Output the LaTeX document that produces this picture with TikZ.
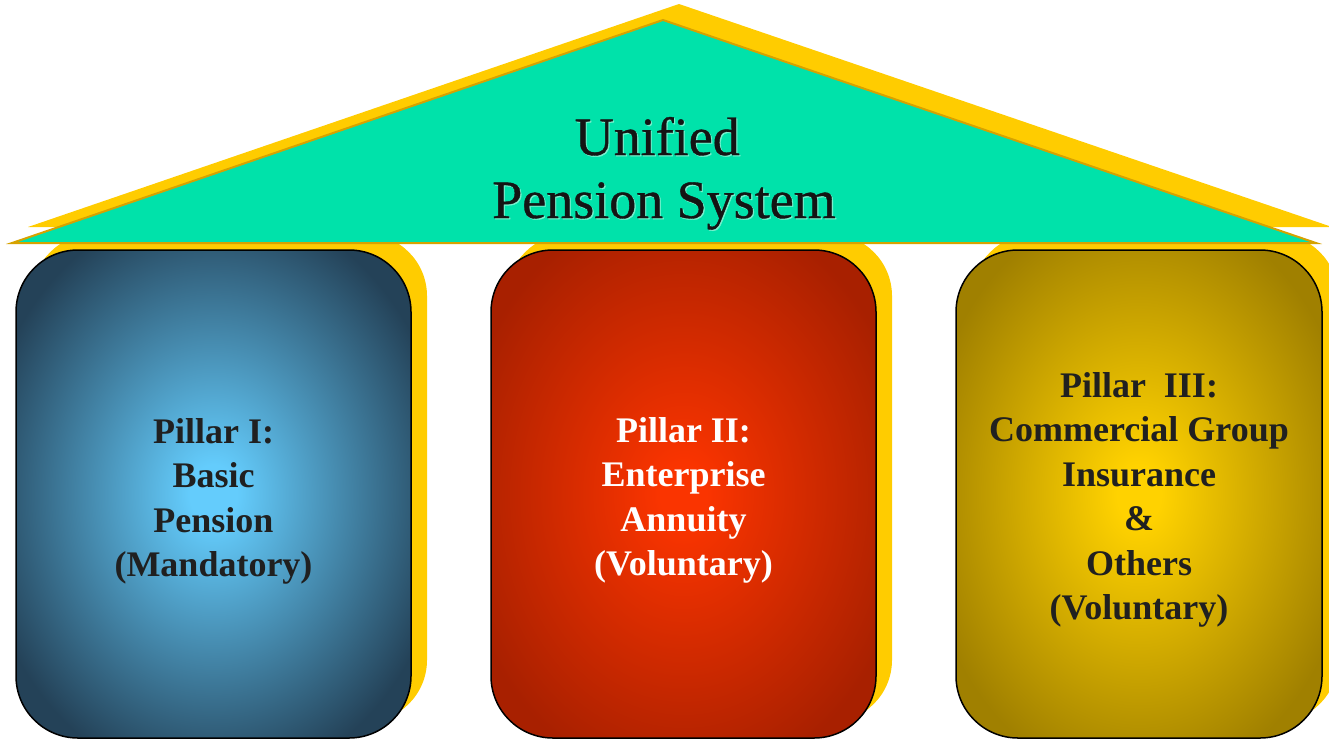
\documentclass[tikz,border=0pt]{standalone}
\usepackage{fontspec}
\setmainfont{Liberation Serif}
\newfontfamily\titlefont{Liberation Serif}[FakeBold=0.7]
\definecolor{roofgreen}{RGB}{0,226,170}
\definecolor{roofyellow}{RGB}{255,204,0}
\definecolor{roofgold}{RGB}{214,162,0}
\definecolor{titleink}{RGB}{20,20,20}
\definecolor{titlelight}{RGB}{120,240,205}
\definecolor{textdark}{RGB}{32,32,32}
\definecolor{blueIn}{RGB}{100,204,252}
\definecolor{blueOut}{RGB}{36,66,88}
\definecolor{redIn}{RGB}{250,52,0}
\definecolor{redOut}{RGB}{168,32,0}
\definecolor{goldIn}{RGB}{255,210,0}
\definecolor{goldOut}{RGB}{160,128,0}
\pgfdeclareradialshading{glowblue}{\pgfpointorigin}{color(0bp)=(blueIn); color(3bp)=(blueIn); color(30bp)=(blueOut); color(50bp)=(blueOut)}
\pgfdeclareradialshading{glowred}{\pgfpointorigin}{color(0bp)=(redIn); color(3bp)=(redIn); color(30bp)=(redOut); color(50bp)=(redOut)}
\pgfdeclareradialshading{glowgold}{\pgfpointorigin}{color(0bp)=(goldIn); color(3bp)=(goldIn); color(30bp)=(goldOut); color(50bp)=(goldOut)}
\begin{document}
\begin{tikzpicture}[x=1pt,y=-1pt,
  pillarshadow/.style={fill=roofyellow, rounded corners=62pt},
  pillarbox/.style={draw=black, line width=1.5pt, rounded corners=62pt},
  pillartext/.style={font=\bfseries\fontsize{36}{44.5}\selectfont, align=center, inner sep=0pt, anchor=base},
  titletext/.style={font=\titlefont\fontsize{54}{63}\selectfont, align=center, inner sep=0pt, anchor=base}]
\useasboundingbox (0,0) rectangle (1329,739);
\clip (0,0) rectangle (1329,739);
% pillar shadows
\fill[pillarshadow] (32,234) rectangle (427,722);
\fill[pillarshadow] (507,234) rectangle (892,722);
\fill[pillarshadow] (972,234) rectangle (1338,722);
% roof
\fill[roofyellow] (679,4) -- (28,227) -- (1332,227) -- cycle;
\filldraw[fill=roofgreen, draw=roofgold, line width=2pt, line join=miter] (663,20) -- (12,243) -- (1316,243) -- cycle;
% pillars
\path[pillarbox, shade, shading=glowblue] (16,250) rectangle (411,738);
\path[pillarbox, shade, shading=glowred] (491,250) rectangle (876,738);
\path[pillarbox, shade, shading=glowgold] (956,250) rectangle (1322,738);
% texts (base anchor = baseline of the last line)
\node[titletext, text=titlelight] (titlehl) at (665.2,219.2) {Unified\hspace*{0.25em}\\Pension System};
\node[titletext, text=titleink] (title) at (664,218) {Unified\hspace*{0.25em}\\Pension System};
\node[pillartext, text=textdark] (p1) at (213.5,576.5) {Pillar I:\\Basic\\Pension\\(Mandatory)};
\node[pillartext, text=white] (p2) at (683.5,575.5) {Pillar II:\\Enterprise\\Annuity\\(Voluntary)};
\node[pillartext, text=textdark] (p3) at (1139,619.5) {Pillar\ \ III:\\Commercial Group\\Insurance\\\&\\Others\\(Voluntary)};
\end{tikzpicture}
\end{document}
